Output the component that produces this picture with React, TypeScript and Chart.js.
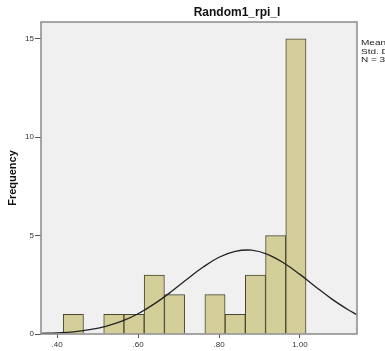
import React, { useEffect, useRef } from "react";
import { Chart, registerables } from "chart.js";

Chart.register(...registerables);

const binCenters = [0.44, 0.49, 0.54, 0.59, 0.64, 0.69, 0.74, 0.79, 0.84, 0.89, 0.94, 0.99];
const frequencies = [1, 0, 1, 1, 3, 2, 0, 2, 1, 3, 5, 15];

const curveX = [0.36, 0.4, 0.44, 0.48, 0.52, 0.56, 0.6, 0.64, 0.68, 0.72, 0.76, 0.8, 0.84, 0.88, 0.92, 0.96, 1.0, 1.04, 1.08, 1.12, 1.14];
const curveY = [0.03, 0.06, 0.11, 0.22, 0.39, 0.65, 1.03, 1.53, 2.12, 2.77, 3.39, 3.9, 4.2, 4.26, 4.05, 3.61, 3.03, 2.38, 1.76, 1.22, 0.99];

const yTicks = [0, 5, 10, 15];
const xTicks = [0.4, 0.6, 0.8, 1.0];
const xTickLabels = [".40", ".60", ".80", "1.00"];

const chartTitle = "Random1_rpi_l";
const yTitle = "Frequency";
const statsLines = ["Mean = .87", "Std. Dev. = .159", "N = 34"];

const FONT = "'Liberation Sans', Arial, sans-serif";

export default function App() {
  const ref = useRef<HTMLCanvasElement>(null);

  useEffect(() => {
    const canvas = ref.current;
    if (!canvas) return;

    const decor = {
      id: "decor",
      beforeDraw(chart: any) {
        const { ctx, chartArea: a } = chart;
        ctx.save();
        ctx.fillStyle = "#ffffff";
        ctx.fillRect(0, 0, chart.width, chart.height);
        ctx.fillStyle = "#f0f0f0";
        ctx.fillRect(a.left, a.top, a.right - a.left, a.bottom - a.top);
        ctx.restore();
      },
      afterDraw(chart: any) {
        const { ctx, chartArea: a } = chart;
        ctx.save();
        ctx.strokeStyle = "#8a8a8a";
        ctx.lineWidth = 1.5;
        ctx.strokeRect(a.left, a.top, a.right - a.left, a.bottom - a.top);
        ctx.fillStyle = "#111";
        ctx.font = `bold 12px ${FONT}`;
        ctx.textAlign = "center";
        ctx.textBaseline = "alphabetic";
        ctx.fillText(chartTitle, 237, 16);
        ctx.font = `8px ${FONT}`;
        ctx.fillStyle = "#222";
        ctx.textAlign = "left";
        ctx.textBaseline = "middle";
        statsLines.forEach((s, i) => {
          ctx.save();
          ctx.translate(361, 43 + i * 8.5);
          ctx.scale(1.25, 1);
          ctx.fillText(s, 0, 0);
          ctx.restore();
        });
        ctx.restore();
      },
    };

    const chart = new Chart(canvas, {
      type: "bar",
      data: {
        datasets: [
          {
            type: "bar",
            data: binCenters.map((x, i) => ({ x, y: frequencies[i] })) as any,
            backgroundColor: "#d4cf99",
            borderColor: "#4a4630",
            borderWidth: 1,
            barPercentage: 1,
            categoryPercentage: 1,
            order: 2,
          } as any,
          {
            type: "line",
            data: curveX.map((x, i) => ({ x, y: curveY[i] })) as any,
            borderColor: "#222222",
            borderWidth: 1.3,
            pointRadius: 0,
            tension: 0.4,
            fill: false,
            order: 1,
          } as any,
        ],
      },
      options: {
        responsive: false,
        animation: false,
        layout: { padding: { top: 22, right: 28, left: 0, bottom: 0 } },
        plugins: {
          legend: { display: false },
          title: { display: false },
          tooltip: { enabled: false },
        },
        scales: {
          x: {
            type: "linear",
            min: 0.36,
            max: 1.141,
            offset: false,
            grid: { offset: false, drawOnChartArea: false, tickLength: 4, color: "#555", drawTicks: true },
            border: { display: false },
            afterBuildTicks: (axis: any) => {
              axis.ticks = xTicks.map((v) => ({ value: v }));
            },
            afterFit: (axis: any) => {
              axis.height = 17;
            },
            ticks: {
              autoSkip: false,
              maxRotation: 0,
              padding: 2,
              color: "#333",
              font: { size: 8, family: FONT },
              callback: (v: any) => {
                const i = xTicks.findIndex((t) => Math.abs(t - Number(v)) < 1e-6);
                return i >= 0 ? xTickLabels[i] : "";
              },
            },
          },
          y: {
            min: 0,
            max: 15.86,
            grid: { drawOnChartArea: false, tickLength: 6, color: "#555" },
            border: { display: false },
            afterBuildTicks: (axis: any) => {
              axis.ticks = yTicks.map((v) => ({ value: v }));
            },
            afterFit: (axis: any) => {
              axis.width = 41;
            },
            title: {
              display: true,
              text: yTitle,
              color: "#111",
              font: { size: 11, weight: "bold", family: FONT },
              padding: { top: 6, bottom: 0 },
            },
            ticks: {
              padding: 1,
              color: "#333",
              font: { size: 8, family: FONT },
            },
          },
        },
      } as any,
      plugins: [decor],
    });

    return () => chart.destroy();
  }, []);

  return (
    <div style={{ position: "absolute", left: 0, top: 0, width: 385, height: 351 }}>
      <canvas ref={ref} width={385} height={351} style={{ display: "block" }} />
    </div>
  );
}
